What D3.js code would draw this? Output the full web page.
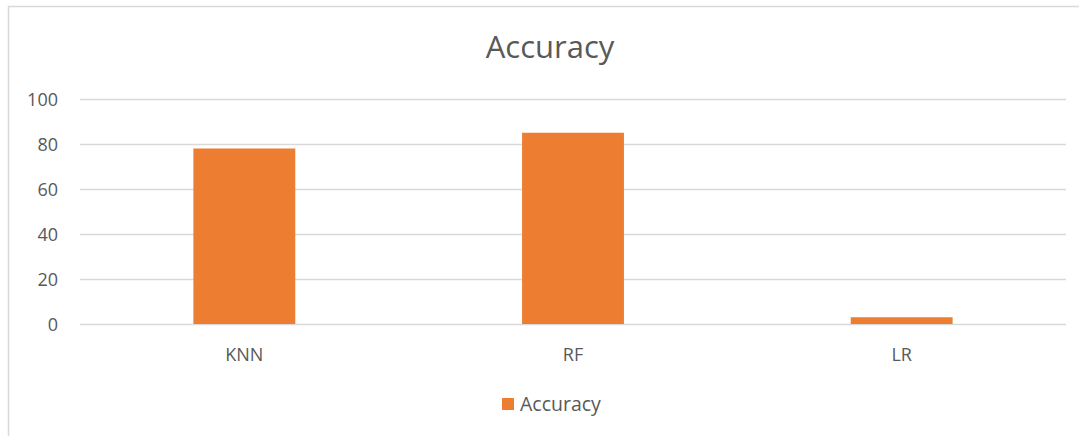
<!DOCTYPE html>
<html><head><meta charset="utf-8">
<script src="https://cdn.jsdelivr.net/npm/d3@7"></script>
<style>
html,body{margin:0;padding:0;background:#fff;}
text{font-family:"Open Sans","Liberation Sans",sans-serif;fill:#595959;}
</style></head>
<body>
<svg id="chart" width="1079" height="436"></svg>
<script>
const categories = ["KNN", "RF", "LR"];
const accuracy = [78, 85, 3];
const yTicks = [0, 20, 40, 60, 80, 100];
const seriesName = "Accuracy";
const chartTitle = "Accuracy";

const svg = d3.select("#chart");
const W = 1079, H = 436;
const m = {left: 80, right: 1066, top: 99, bottom: 324};

// chart border
svg.append("line").attr("x1", 8.5).attr("x2", 8.5).attr("y1", 6).attr("y2", H).attr("stroke", "#d9d9d9").attr("stroke-width", 1.5);
svg.append("line").attr("x1", 8).attr("x2", W).attr("y1", 6.5).attr("y2", 6.5).attr("stroke", "#d9d9d9").attr("stroke-width", 1.5);

const x = d3.scaleBand().domain(categories).range([m.left, m.right]).padding(0);
const y = d3.scaleLinear().domain([0, 100]).range([m.bottom, m.top]);

// gridlines
svg.append("g").selectAll("line").data(yTicks).join("line")
  .attr("x1", m.left).attr("x2", m.right)
  .attr("y1", d => Math.round(y(d)) + 0.5).attr("y2", d => Math.round(y(d)) + 0.5)
  .attr("stroke", "#d9d9d9").attr("stroke-width", 1.5);

// y labels
const yAxis = d3.axisLeft(y).tickValues(yTicks).tickSize(0).tickPadding(0);
const gy = svg.append("g").attr("transform", `translate(${58},0)`).call(yAxis);
gy.select(".domain").remove();
gy.selectAll("text").style("font-size", "18px").attr("fill", "#595959").attr("dy", "0.35em");

// bars
const bw = x.bandwidth() * 0.31;
svg.append("g").selectAll("rect").data(categories).join("rect")
  .attr("x", (d) => x(d) + x.bandwidth() / 2 - bw / 2)
  .attr("width", bw)
  .attr("y", (d, i) => y(accuracy[i]))
  .attr("height", (d, i) => y(0) - y(accuracy[i]))
  .attr("fill", "#ed7d31");

// x labels
const xAxis = d3.axisBottom(x).tickSize(0).tickPadding(0);
const gx = svg.append("g").attr("transform", `translate(0,${355})`).call(xAxis);
gx.select(".domain").remove();
gx.selectAll("text").style("font-size", "18px").attr("fill", "#595959").attr("dy", "0.35em");

// title
svg.append("text").attr("x", 550).attr("y", 58).attr("text-anchor", "middle")
  .style("font-size", "31px").text(chartTitle);

// legend
svg.append("rect").attr("x", 502).attr("y", 398).attr("width", 12).attr("height", 12).attr("fill", "#ed7d31");
svg.append("text").attr("x", 520).attr("y", 404).attr("dy", "0.35em").style("font-size", "19.5px").text(seriesName);
</script>
</body></html>
